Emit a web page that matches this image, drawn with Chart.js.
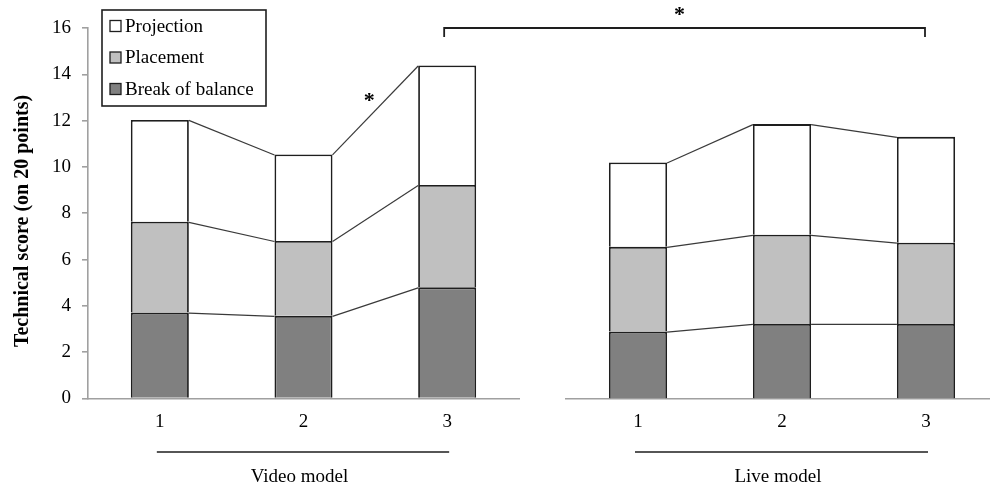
<!DOCTYPE html>
<html><head><meta charset="utf-8">
<script src="https://cdn.jsdelivr.net/npm/chart.js@4/dist/chart.umd.min.js"></script>
<style>
html,body{margin:0;padding:0;background:#fff;overflow:hidden;width:990px;height:495px;}
#wrap{position:relative;width:990px;height:495px;overflow:hidden;}
canvas{position:absolute;left:0;top:0;}
</style></head><body>
<div id="wrap">
<canvas id="left" width="990" height="495"></canvas>
<canvas id="right" width="1010" height="495"></canvas>
</div>
<script>
// ---- data ----
const sessions = ['1', '2', '3'];
const groups = ['Video model', 'Live model'];
const seriesNames = ['Break of balance', 'Placement', 'Projection'];
const videoBreak = [3.71, 3.57, 4.80];
const videoPlacement = [3.92, 3.23, 4.42];
const videoProjection = [4.40, 3.74, 5.16];
const liveBreak = [2.89, 3.22, 3.22];
const livePlacement = [3.66, 3.85, 3.51];
const liveProjection = [3.64, 4.78, 4.57];
const yTicks = [0, 2, 4, 6, 8, 10, 12, 14, 16];
const yTitle = 'Technical score (on 20 points)';
const seriesColors = ['#808080', '#c0c0c0', '#ffffff'];
const starMark = '*';

const FONT = "'Liberation Serif', 'Times New Roman', serif";
const AXIS = '#a0a0a0';
const EDGE = '#1e1e1e';

function makeDatasets(br, pl, pr) {
  return [br, pl, pr].map((d, i) => ({
    label: seriesNames[i],
    data: d,
    backgroundColor: seriesColors[i],
    borderColor: EDGE,
    borderWidth: 1.8,
    borderSkipped: 'bottom',
    barPercentage: 0.404,
    categoryPercentage: 1
  }));
}

const connectors = {
  id: 'connectors',
  afterDatasetsDraw(chart) {
    const ctx = chart.ctx;
    ctx.save();
    ctx.strokeStyle = '#3a3a3a';
    ctx.lineWidth = 1.2;
    chart.data.datasets.forEach((ds, d) => {
      const els = chart.getDatasetMeta(d).data;
      for (let i = 0; i < els.length - 1; i++) {
        const a = els[i], b = els[i + 1];
        ctx.beginPath();
        ctx.moveTo(a.x + a.width / 2, a.y + 0.5);
        ctx.lineTo(b.x - b.width / 2, b.y + 0.5);
        ctx.stroke();
      }
    });
    ctx.restore();
  }
};

const groupLabel = {
  id: 'groupLabel',
  afterDraw(chart, args, opts) {
    const ctx = chart.ctx;
    const x = chart.scales.x;
    const x0 = x.getPixelForValue(0), x2 = x.getPixelForValue(sessions.length - 1);
    const xm = x.getPixelForValue(1);
    ctx.save();
    ctx.strokeStyle = EDGE;
    ctx.lineWidth = 1.6;
    ctx.beginPath();
    ctx.moveTo(x0 - 3, 452);
    ctx.lineTo(x2 + 2, 452);
    ctx.stroke();
    ctx.fillStyle = '#000';
    ctx.font = '19px ' + FONT;
    ctx.textAlign = 'center';
    ctx.textBaseline = 'middle';
    ctx.fillText(opts.text, xm - 4, 477);
    ctx.restore();
  }
};

const legendBox = {
  id: 'legendBox',
  afterDraw(chart) {
    const ctx = chart.ctx;
    ctx.save();
    ctx.fillStyle = '#fff';
    ctx.fillRect(102, 10, 164, 96);
    ctx.strokeStyle = EDGE;
    ctx.lineWidth = 1.6;
    ctx.strokeRect(102, 10, 164, 96);
    ctx.font = '19px ' + FONT;
    ctx.textBaseline = 'middle';
    ctx.textAlign = 'left';
    const order = [2, 1, 0];
    order.forEach((d, k) => {
      const yc = 26 + k * 31.5;
      ctx.fillStyle = seriesColors[d];
      ctx.fillRect(110, yc - 5.5, 11, 11);
      ctx.strokeStyle = EDGE;
      ctx.lineWidth = 1.3;
      ctx.strokeRect(110, yc - 5.5, 11, 11);
      ctx.fillStyle = '#000';
      ctx.fillText(chart.data.datasets[d].label, 125, yc + 1);
    });
    // y-axis title
    ctx.translate(23, 221);
    ctx.rotate(-Math.PI / 2);
    ctx.font = 'bold 20px ' + FONT;
    ctx.textAlign = 'center';
    ctx.fillText(yTitle, 0, 0);
    ctx.restore();
  }
};

const common = {
  responsive: false,
  animation: false,
  devicePixelRatio: 1,
  plugins: { legend: { display: false }, tooltip: { enabled: false } }
};

function xScale() {
  return {
    type: 'category',
    stacked: true,
    offset: true,
    grid: { display: true, drawOnChartArea: false, drawTicks: false },
    border: { display: true, color: AXIS, width: 1.6 },
    ticks: { color: '#000', font: { family: FONT, size: 19 }, padding: 12, maxRotation: 0 },
    afterFit(s) { s.height = 96.5; }
  };
}

const leftChart = new Chart(document.getElementById('left'), {
  type: 'bar',
  data: { labels: sessions, datasets: makeDatasets(videoBreak, videoPlacement, videoProjection) },
  options: Object.assign({}, common, {
    layout: { padding: { left: 0, top: 28, right: 990 - 519, bottom: 0 } },
    plugins: Object.assign({}, common.plugins, { groupLabel: { text: groups[0] } }),
    scales: {
      x: xScale(),
      y: {
        stacked: true, min: 0, max: 16,
        afterBuildTicks(s) { s.ticks = yTicks.map(v => ({ value: v })); },
        grid: { display: true, drawOnChartArea: false, drawTicks: true, tickLength: 6, color: AXIS, lineWidth: 1.6 },
        border: { display: true, color: AXIS, width: 1.6 },
        ticks: { color: '#000', font: { family: FONT, size: 19 }, padding: 11 },
        title: { display: false },
        afterFit(s) { s.width = 88; }
      }
    }
  }),
  plugins: [connectors, groupLabel, legendBox]
});

const bracket = {
  id: 'bracket',
  afterDraw(chart) {
    const ctx = chart.ctx;
    const xa = leftChart.scales.x.getPixelForValue(sessions.length - 1) - 3;
    const xb = chart.scales.x.getPixelForValue(sessions.length - 1) - 1;
    ctx.save();
    ctx.strokeStyle = EDGE;
    ctx.lineWidth = 1.8;
    ctx.beginPath();
    ctx.moveTo(xa, 37); ctx.lineTo(xa, 28); ctx.lineTo(xb, 28); ctx.lineTo(xb, 37);
    ctx.stroke();
    ctx.fillStyle = '#000';
    ctx.font = 'bold 22px ' + FONT;
    ctx.textAlign = 'center';
    ctx.textBaseline = 'middle';
    ctx.fillText(starMark, (xa + xb) / 2 - 5, 15);
    // star near the video session 2 -> 3 projection connector
    const m = leftChart.getDatasetMeta(2).data;
    const a = m[1], b = m[2];
    const mx = ((a.x + a.width / 2) + (b.x - b.width / 2)) / 2;
    const my = (a.y + b.y) / 2;
    ctx.fillText(starMark, mx - 6, my - 9);
    ctx.restore();
  }
};

new Chart(document.getElementById('right'), {
  type: 'bar',
  data: { labels: sessions, datasets: makeDatasets(liveBreak, livePlacement, liveProjection) },
  options: Object.assign({}, common, {
    layout: { padding: { left: 566, top: 28, right: 1010 - 998, bottom: 0 } },
    plugins: Object.assign({}, common.plugins, { groupLabel: { text: groups[1] } }),
    scales: {
      x: xScale(),
      y: { display: false, stacked: true, min: 0, max: 16 }
    }
  }),
  plugins: [connectors, groupLabel, bracket]
});
</script>
</body></html>
